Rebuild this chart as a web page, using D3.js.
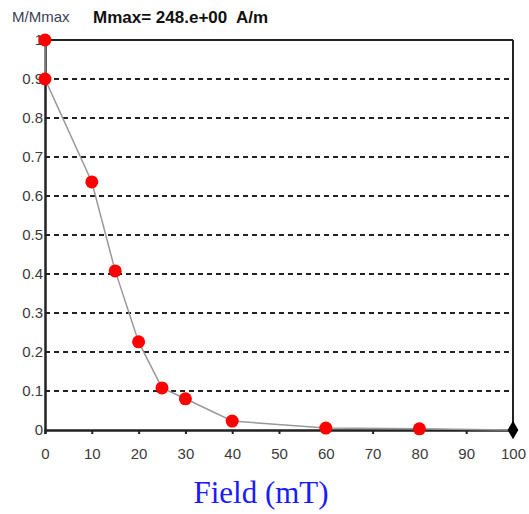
<!DOCTYPE html>
<meta charset="utf-8">
<script src="https://d3js.org/d3.v7.min.js"></script>
<style>
  body { margin: 0; background: #fff; }
</style>
<div id="chart"></div>
<script>
// demagnetisation data (field in mT, normalised magnetisation)
var fields = [0, 0, 10, 15, 20, 25, 30, 40, 60, 80];
var mRatio = [1, 0.9, 0.636, 0.408, 0.226, 0.108, 0.08, 0.023, 0.005, 0.003];
var endPoint = [100, 0];
var xTicks = [0, 10, 20, 30, 40, 50, 60, 70, 80, 90, 100];
var yTicks = [0, 0.1, 0.2, 0.3, 0.4, 0.5, 0.6, 0.7, 0.8, 0.9, 1];

var width = 529, height = 514;
var margin = {top: 40, right: 16, bottom: 84, left: 45};

var svg = d3.select("#chart").append("svg")
  .attr("width", width).attr("height", height);

var x = d3.scaleLinear().domain([0, 100]).range([margin.left, width - margin.right]);
var y = d3.scaleLinear().domain([0, 1]).range([height - margin.bottom, margin.top]);

// dashed grid lines
svg.selectAll(".grid")
  .data(yTicks.filter(function(d){ return d > 0 && d < 1 }))
  .enter().append("line")
    .attr("x1", x(0)).attr("x2", x(100))
    .attr("y1", function(d){ return y(d) }).attr("y2", function(d){ return y(d) })
    .style("stroke", "#222").style("stroke-width", 2)
    .style("stroke-dasharray", "5,4");

// frame: top and right solid lines
svg.append("line").attr("x1", x(0)).attr("x2", x(100)).attr("y1", y(1)).attr("y2", y(1))
  .style("stroke", "#222").style("stroke-width", 2);
svg.append("line").attr("x1", x(100)).attr("x2", x(100)).attr("y1", y(1)).attr("y2", y(0))
  .style("stroke", "#222").style("stroke-width", 2);

// axes
var xAxis = svg.append("g")
  .attr("transform", "translate(0," + y(0) + ")")
  .call(d3.axisBottom(x).tickValues(xTicks).tickSize(4).tickPadding(14).tickFormat(d3.format("d")));
var yAxis = svg.append("g")
  .attr("transform", "translate(" + x(0) + ",0)")
  .call(d3.axisLeft(y).tickValues(yTicks).tickSize(0).tickPadding(2).tickFormat(function(d){ return d === 0 || d === 1 ? d : d3.format(".1f")(d) }));

[xAxis, yAxis].forEach(function(g){
  g.select(".domain").style("stroke", "#222").style("stroke-width", 2.5);
  g.selectAll(".tick line").style("stroke", "#222").style("stroke-width", 2);
  g.selectAll("text")
    .style("font-family", "Liberation Sans Narrow, Liberation Sans, Arial, sans-serif")
    .style("font-size", "15px").style("fill", "#3a3a3a");
});

// connecting line
var pts = fields.map(function(f, i){ return [f, mRatio[i]] }).concat([endPoint]);
svg.append("path")
  .datum(pts)
  .attr("d", d3.line().x(function(d){ return x(d[0]) }).y(function(d){ return y(d[1]) }))
  .style("fill", "none").style("stroke", "#999").style("stroke-width", 1.5);

// markers
svg.selectAll(".pt")
  .data(pts.slice(0, fields.length))
  .enter().append("circle")
    .attr("cx", function(d){ return x(d[0]) })
    .attr("cy", function(d){ return y(d[1]) })
    .attr("r", 6.5)
    .style("fill", "#ff0000");

svg.append("path")
  .attr("d", d3.symbol().type(d3.symbolDiamond).size(100))
  .attr("transform", "translate(" + x(endPoint[0]) + "," + y(endPoint[1]) + ")")
  .style("fill", "#000");

// titles
svg.append("text")
  .attr("x", 12).attr("y", 22)
  .text("M/Mmax")
  .style("font-family", "Liberation Sans Narrow, Liberation Sans, Arial, sans-serif")
  .style("font-size", "15px").style("fill", "#3a3f55");

svg.append("text")
  .attr("x", 93).attr("y", 23)
  .text("Mmax= 248.e+00  A/m")
  .attr("xml:space", "preserve")
  .style("white-space", "pre")
  .style("font-family", "Liberation Sans, Arial, sans-serif")
  .style("font-weight", "bold")
  .style("font-size", "17px").style("fill", "#111");

svg.append("text")
  .attr("x", 261).attr("y", 503)
  .attr("text-anchor", "middle")
  .text("Field (mT)")
  .style("font-family", "Liberation Serif, Times New Roman, serif")
  .style("font-size", "31px").style("fill", "#1a1aff");
</script>
